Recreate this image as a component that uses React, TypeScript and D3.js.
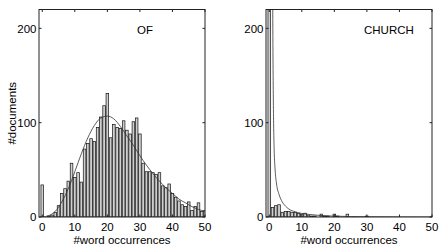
import React from 'react';
import * as d3 from 'd3';

// histogram counts for word occurrences 0..50
const occurrences = d3.range(0, 51);

const ofCounts = [
  34, 0, 1, 2, 5, 12, 25, 30, 38, 57,
  42, 47, 37, 72, 78, 83, 80, 95, 106, 118,
  131, 84, 98, 95, 94, 102, 92, 88, 101, 105,
  88, 57, 48, 48, 47, 45, 47, 33, 31, 35,
  25, 21, 17, 13, 11, 16, 7, 11, 15, 6,
  7,
];

const churchCounts = [
  400, 10, 12, 13, 5, 6, 6, 5, 5, 4,
  3, 4, 2, 1, 1, 0, 3, 1, 1, 0,
  3, 1, 0, 0, 3, 0, 0, 0, 0, 0,
  1, 0, 0, 0, 0, 0, 0, 0, 0, 0,
  0, 0, 0, 0, 0, 0, 0, 0, 0, 0,
  0,
];

// fitted curves as [x, y]
const ofFit: [number, number][] = [
  [0, 0], [1, 0.5], [2, 1.5], [4, 6], [6, 16], [8, 30], [10, 48], [12, 67],
  [14, 84], [16, 97], [18, 105], [20, 107], [22, 104], [24, 96], [26, 86],
  [28, 76], [30, 65], [32, 55], [34, 46], [36, 38], [38, 31], [40, 25],
  [42, 19], [44, 15], [46, 11], [48, 8], [50, 6],
];

const churchFit: [number, number][] = [
  [0.9, 400], [1.1, 200], [1.3, 110], [1.5, 72], [1.8, 50], [2.2, 36],
  [3, 24], [4, 16], [5, 11.5], [6, 8.5], [8, 5.5], [10, 3.8], [12, 2.8],
  [15, 1.8], [20, 0.9], [25, 0.5], [30, 0.3], [40, 0.1], [50, 0],
];

const xTicks = [0, 10, 20, 30, 40, 50];
const yTicks = [0, 100, 200];

const W = 443;
const H = 245;
const top = 9.5;
const bottom = 217;
const font = 'Liberation Sans, Arial, Helvetica, sans-serif';

type PanelProps = {
  id: string;
  left: number;
  right: number;
  counts: number[];
  fit: [number, number][];
  title: string;
  titleX: number;
  yLabel?: string;
};

function Panel({ id, left, right, counts, fit, title, titleX, yLabel }: PanelProps) {
  const x = d3.scaleLinear().domain([-1, 50]).range([left, right]);
  const y = d3.scaleLinear().domain([0, 220]).range([bottom, top]);
  const barW = x(0.8) - x(0);

  const line = d3.line<[number, number]>()
    .x(d => x(d[0]))
    .y(d => y(d[1]))
    .curve(d3.curveMonotoneX);

  return (
    <g>
      <defs>
        <clipPath id={id}>
          <rect x={left} y={top} width={right - left} height={bottom - top} />
        </clipPath>
      </defs>
      <g clipPath={`url(#${id})`}>
        {counts.map((c, i) =>
          c > 0 ? (
            <rect key={i}
              x={x(occurrences[i]) - barW / 2}
              y={y(c)}
              width={barW}
              height={y(0) - y(c)}
              fill="#cfcfcf"
              stroke="#111"
              strokeWidth={0.7} />
          ) : null
        )}
        <path d={line(fit) || ''} fill="none" stroke="#333" strokeWidth={0.8} />
      </g>
      {/* frame */}
      <rect x={left} y={top} width={right - left} height={bottom - top}
        fill="none" stroke="#222" strokeWidth={1} />
      {xTicks.map(t => (
        <g key={'x' + t}>
          <line x1={x(t)} x2={x(t)} y1={bottom} y2={bottom - 2.5} stroke="#222" />
          <line x1={x(t)} x2={x(t)} y1={top} y2={top + 2.5} stroke="#222" />
          <text x={x(t)} y={230.5} textAnchor="middle" fontSize={11.5} fontFamily={font}>{t}</text>
        </g>
      ))}
      {yTicks.map(t => (
        <g key={'y' + t}>
          <line x1={left} x2={left + 2.5} y1={y(t)} y2={y(t)} stroke="#222" />
          <line x1={right} x2={right - 2.5} y1={y(t)} y2={y(t)} stroke="#222" />
          <text x={left - 2.5} y={y(t) + 4.2} textAnchor="end" fontSize={11.5} fontFamily={font}>{t}</text>
        </g>
      ))}
      <text x={titleX} y={33.5} fontSize={11.5} fontFamily={font}>{title}</text>
      <text x={(left + right) / 2} y={243.5} textAnchor="middle" fontSize={11.5} fontFamily={font}>
        #word occurrences
      </text>
      {yLabel && (
        <text transform={`translate(15.5,${(top + bottom) / 2}) rotate(-90)`}
          textAnchor="middle" fontSize={11.5} fontFamily={font}>{yLabel}</text>
      )}
    </g>
  );
}

export default function App() {
  return (
    <svg width={W} height={H} style={{ position: 'absolute', left: 0, top: 0, background: '#fff' }}>
      <Panel id="clip-of" left={39} right={205} counts={ofCounts} fit={ofFit}
        title="OF" titleX={137} yLabel="#documents" />
      <Panel id="clip-church" left={266} right={432} counts={churchCounts} fit={churchFit}
        title="CHURCH" titleX={364} />
    </svg>
  );
}
